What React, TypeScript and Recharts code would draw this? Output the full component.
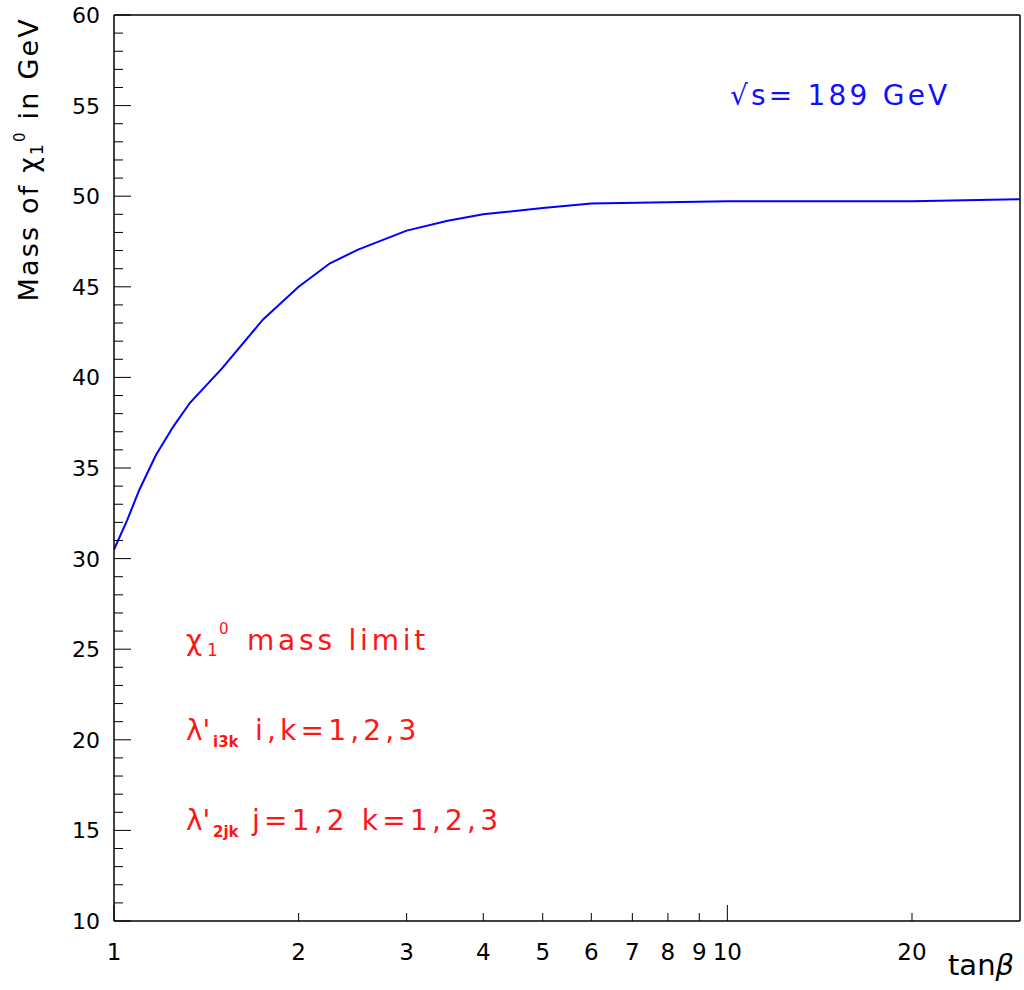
import { LineChart, Line, XAxis, YAxis, ReferenceLine } from "recharts";

// tan(beta) sample points and the chi_1^0 mass limit (GeV)
const tanBeta = [1, 1.05, 1.1, 1.17, 1.25, 1.33, 1.5, 1.75, 2, 2.25, 2.5, 3, 3.5, 4, 5, 6, 10, 20, 30];
const massLimit = [30.5, 32.1, 33.8, 35.7, 37.3, 38.6, 40.5, 43.2, 45.0, 46.3, 47.05, 48.1, 48.65, 49.0, 49.35, 49.6, 49.72, 49.72, 49.83];

const xTicks = [1, 2, 3, 4, 5, 6, 7, 8, 9, 10, 20];
const xMajor = [1, 10];
const yMajor = [10, 15, 20, 25, 30, 35, 40, 45, 50, 55, 60];

const yTicks: number[] = [];
for (let v = 10; v <= 60; v++) yTicks.push(v);

const data = tanBeta.map((t, i) => ({ tanBeta: t, mass: massLimit[i] }));

const FONT = "'DejaVu Sans', sans-serif";

function YTick(props: any) {
  const { x, y, payload } = props;
  const v = payload.value;
  const major = yMajor.includes(v);
  const ax = x + 14;
  return (
    <g>
      <line x1={ax} x2={ax + (major ? 17 : 9)} y1={y} y2={y} stroke="#000" strokeWidth={1} />
      {major && (
        <text x={x} y={y + 8} textAnchor="end" fontSize={22} fontFamily={FONT} fill="#000">
          {v}
        </text>
      )}
    </g>
  );
}

function XTick(props: any) {
  const { x, y, payload } = props;
  const v = payload.value;
  const ay = y - 22;
  const len = xMajor.includes(v) ? 16 : 8;
  return (
    <g>
      <line x1={x} x2={x} y1={ay} y2={ay - len} stroke="#000" strokeWidth={1} />
      <text x={x} y={y + 17} textAnchor="middle" fontSize={23} fontFamily={FONT} fill="#000">
        {v}
      </text>
    </g>
  );
}

export default function App() {
  return (
    <div style={{ position: "absolute", left: 0, top: 0, width: 1024, height: 990, background: "#fff" }}>
      <LineChart width={1024} height={990} data={data} margin={{ top: 15, right: 4, bottom: 0, left: 0 }}>
        <XAxis
          dataKey="tanBeta"
          type="number"
          scale="log"
          domain={[1, 30]}
          ticks={xTicks}
          interval={0}
          allowDataOverflow
          height={69}
          tickSize={0}
          tickMargin={22}
          tick={<XTick />}
          axisLine={{ stroke: "#000", strokeWidth: 1.5 }}
        />
        <YAxis
          type="number"
          domain={[10, 60]}
          ticks={yTicks}
          interval={0}
          allowDataOverflow
          width={114}
          tickSize={0}
          tickMargin={14}
          tick={<YTick />}
          axisLine={{ stroke: "#000", strokeWidth: 1.5 }}
        />
        <ReferenceLine y={60} stroke="#000" strokeWidth={1.5} />
        <ReferenceLine x={30} stroke="#000" strokeWidth={1.5} />
        <Line
          dataKey="mass"
          type="linear"
          stroke="#0000ff"
          strokeWidth={2}
          dot={false}
          isAnimationActive={false}
        />
      </LineChart>
      <svg
        width={1024}
        height={990}
        style={{ position: "absolute", left: 0, top: 0, pointerEvents: "none" }}
        fontFamily={FONT}
      >
        <text transform="translate(38,17) rotate(-90)" textAnchor="end" fontSize={27} letterSpacing={2.2} fill="#000">
          Mass of χ
          <tspan fontSize={17} dy={5}>1</tspan>
          <tspan fontSize={15} dy={-18}>0</tspan>
          <tspan dy={13}> in GeV</tspan>
        </text>
        <text x={948} y={975} fontSize={29} fill="#000">
          tan<tspan fontStyle="italic">β</tspan>
        </text>
        <text x={730} y={105} fontSize={28} letterSpacing={3.2} fill="#1010ff">
          √s= 189 GeV
        </text>
        <g fill="#ff1515" fontSize={28}>
          <text x={186} y={650}>χ</text>
          <text x={207} y={656} fontSize={17}>1</text>
          <text x={219} y={634} fontSize={15}>0</text>
          <text x={247} y={650} letterSpacing={3.8}>mass limit</text>

          <text x={186} y={740}>λ'</text>
          <text x={213} y={747} fontSize={15} fontWeight="bold">i3k</text>
          <text x={255} y={740} letterSpacing={4.2}>i,k=1,2,3</text>

          <text x={186} y={830}>λ'</text>
          <text x={213} y={837} fontSize={15} fontWeight="bold">2jk</text>
          <text x={252} y={830} letterSpacing={4.2}>j=1,2 k=1,2,3</text>
        </g>
      </svg>
    </div>
  );
}
